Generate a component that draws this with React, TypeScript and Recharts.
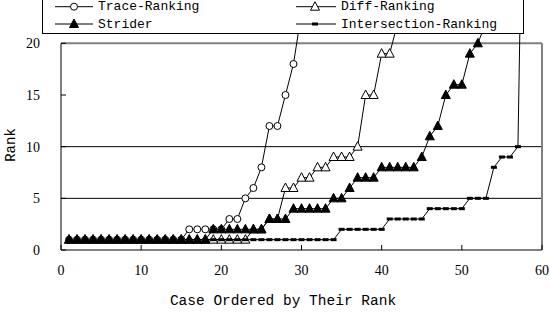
import React from 'react';
import { LineChart, Line, XAxis, YAxis, ReferenceLine, Legend } from 'recharts';

// rank of each case, case number = index + 1 (values past the top of the chart are left out)
const traceRanking = [
  1, 1, 1, 1, 1, 1, 1, 1, 1, 1, 1, 1, 1, 1, 1,
  2, 2, 2, 2, 2,
  3, 3, 5, 6, 8, 12, 12, 15, 18, 23,
];
const diffRanking = [
  1, 1, 1, 1, 1, 1, 1, 1, 1, 1, 1, 1, 1, 1, 1, 1, 1, 1, 1, 1, 1, 1, 1,
  2, 2, 3, 3, 6, 6, 7, 7, 8, 8, 9, 9, 9, 10, 15, 15, 19, 19, 22,
];
const striderRanking = [
  1, 1, 1, 1, 1, 1, 1, 1, 1, 1, 1, 1, 1, 1, 1, 1, 1, 1,
  2, 2, 2, 2, 2, 2, 2,
  3, 3, 3, 4, 4, 4, 4, 4, 5, 5, 6, 7, 7, 7,
  8, 8, 8, 8, 8, 9, 11, 12, 15, 16, 16, 19, 20, 22,
];
const intersectionRanking = [
  1, 1, 1, 1, 1, 1, 1, 1, 1, 1, 1, 1, 1, 1, 1, 1, 1,
  1, 1, 1, 1, 1, 1, 1, 1, 1, 1, 1, 1, 1, 1, 1, 1, 1,
  2, 2, 2, 2, 2, 2, 3, 3, 3, 3, 3, 4, 4, 4, 4, 4,
  5, 5, 5, 8, 9, 9, 10, 57,
];

const seriesNames = ['Trace-Ranking', 'Diff-Ranking', 'Strider', 'Intersection-Ranking'];
const xTicks = [0, 10, 20, 30, 40, 50, 60];
const yTicks = [0, 5, 10, 15, 20];
const gridValues = [5, 10];

const pick = (arr: number[], i: number) => (i < arr.length ? arr[i] : null);

const data = intersectionRanking.map((v, i) => ({
  x: i + 1,
  trace: pick(traceRanking, i),
  diff: pick(diffRanking, i),
  strider: pick(striderRanking, i),
  inter: v,
}));

const MONO = '"Liberation Mono", "DejaVu Sans Mono", monospace';
const SERIF = '"Liberation Serif", "DejaVu Serif", serif';

const triPoints = (cx: number, cy: number) =>
  `${cx},${cy - 5} ${cx + 4.5},${cy + 3.5} ${cx - 4.5},${cy + 3.5}`;

const circleMark = (cx: number, cy: number, k?: any) => (
  <circle key={k} cx={cx} cy={cy} r={3.5} fill="#fff" stroke="#000" strokeWidth={1} />
);
const openTriMark = (cx: number, cy: number, k?: any) => (
  <polygon key={k} points={triPoints(cx, cy)} fill="#fff" stroke="#000" strokeWidth={1} />
);
const fillTriMark = (cx: number, cy: number, k?: any) => (
  <polygon key={k} points={triPoints(cx, cy)} fill="#000" stroke="#000" strokeWidth={1} />
);
const dashMark = (cx: number, cy: number, k?: any) => (
  <rect key={k} x={cx - 3} y={cy - 1.5} width={6} height={3} fill="#000" />
);

const markers = [circleMark, openTriMark, fillTriMark, dashMark];

const makeDot = (mark: (cx: number, cy: number, k?: any) => React.ReactElement) => (p: any) => {
  if (p.cx == null || p.cy == null || p.value == null) return <g key={p.index} />;
  return mark(p.cx, p.cy, p.index);
};

const LegendBox = () => {
  const rows = [15.7, 33];
  const cols = [
    { l1: 12, l2: 50, m: 31, t: 55 },
    { l1: 253, l2: 293, m: 272, t: 298 },
  ];
  return (
    <div
      style={{
        width: 482,
        height: 44,
        border: '1px solid #000',
        background: '#fff',
        boxSizing: 'border-box',
      }}
    >
      <svg width={480} height={42} style={{ display: 'block' }}>
        {seriesNames.map((name, i) => {
          const r = rows[Math.floor(i / 2)];
          const c = cols[i % 2];
          return (
            <g key={name}>
              <line x1={c.l1} x2={c.l2} y1={r} y2={r} stroke="#000" strokeWidth={1} />
              {markers[i](c.m, r)}
              <text
                x={c.t}
                y={r}
                dominantBaseline="central"
                fontFamily={MONO}
                fontSize={13}
                fill="#000"
              >
                {name}
              </text>
            </g>
          );
        })}
      </svg>
    </div>
  );
};

export default function App() {
  return (
    <div style={{ position: 'absolute', left: 0, top: 0, background: '#fff' }}>
      <LineChart width={550} height={317} data={data} margin={{ top: 33, right: 8, left: 0, bottom: 0 }}>
        <XAxis
          dataKey="x"
          type="number"
          domain={[0, 60]}
          ticks={xTicks}
          allowDataOverflow
          height={67}
          axisLine={{ stroke: '#808080', strokeWidth: 2 }}
          tickLine={{ stroke: '#000' }}
          tickSize={-5}
          tickMargin={20}
          tick={{ fontFamily: SERIF, fontSize: 14, fill: '#000' }}
          label={{
            content: () => (
              <text x={283} y={305} textAnchor="middle" fontFamily={MONO} fontSize={14.5} fill="#000">
                Case Ordered by Their Rank
              </text>
            ),
          }}
        />
        <YAxis
          type="number"
          domain={[0, 21]}
          ticks={yTicks}
          allowDataOverflow
          width={61}
          axisLine={false}
          tickLine={{ stroke: '#000' }}
          tickSize={-5}
          tickMargin={26}
          tick={{ fontFamily: SERIF, fontSize: 14, fill: '#000' }}
          label={{
            content: () => (
              <text
                x={11}
                y={145}
                transform="rotate(-90 11 145)"
                textAnchor="middle"
                dominantBaseline="central"
                fontFamily={MONO}
                fontSize={14}
                fill="#000"
              >
                Rank
              </text>
            ),
          }}
        />
        {gridValues.map((g) => (
          <ReferenceLine key={g} y={g} stroke="#000" strokeWidth={1} />
        ))}
        <ReferenceLine y={20} stroke="#808080" strokeWidth={2} />
        <ReferenceLine segment={[{ x: 60, y: 0 }, { x: 60, y: 20 }]} stroke="#808080" strokeWidth={2} />
        <ReferenceLine segment={[{ x: 0, y: 0 }, { x: 0, y: 20 }]} stroke="#000" strokeWidth={1} />
        <Line dataKey="trace" name={seriesNames[0]} stroke="#000" strokeWidth={1} dot={makeDot(circleMark)} activeDot={false} isAnimationActive={false} />
        <Line dataKey="diff" name={seriesNames[1]} stroke="#000" strokeWidth={1} dot={makeDot(openTriMark)} activeDot={false} isAnimationActive={false} />
        <Line dataKey="strider" name={seriesNames[2]} stroke="#000" strokeWidth={1} dot={makeDot(fillTriMark)} activeDot={false} isAnimationActive={false} />
        <Line dataKey="inter" name={seriesNames[3]} stroke="#000" strokeWidth={1} dot={makeDot(dashMark)} activeDot={false} isAnimationActive={false} />
        <Legend
          layout="vertical"
          align="center"
          verticalAlign="middle"
          wrapperStyle={{ left: 42, top: -10, width: 482, height: 44 }}
          content={() => <LegendBox />}
        />
      </LineChart>
    </div>
  );
}
